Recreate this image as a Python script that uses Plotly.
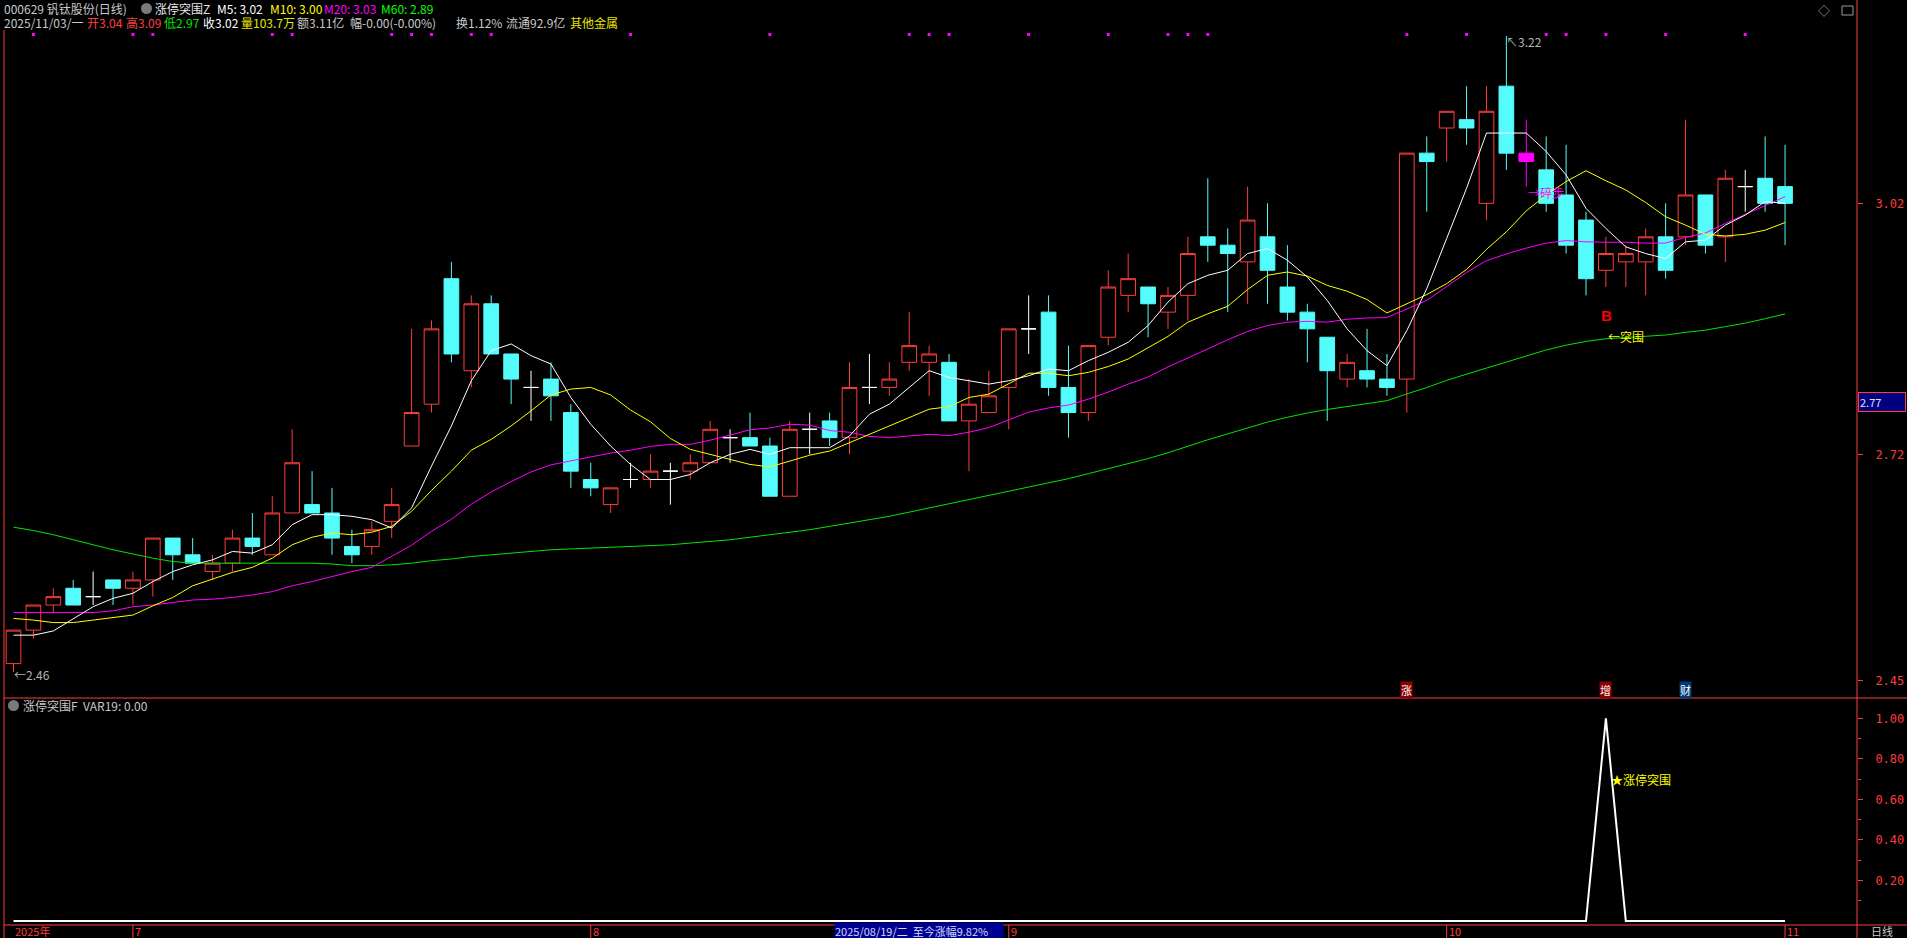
import plotly.graph_objects as go

# ---------------- data ----------------
N = 90
opens = [2.47, 2.51, 2.54, 2.56, 2.55, 2.57, 2.56, 2.57, 2.62, 2.60,
         2.58, 2.59, 2.62, 2.60, 2.65, 2.66, 2.65, 2.61, 2.61, 2.64,
         2.73, 2.78, 2.93, 2.82, 2.90, 2.84, 2.80, 2.81, 2.77, 2.69,
         2.66, 2.69, 2.69, 2.70, 2.70, 2.71, 2.74, 2.74, 2.73, 2.67,
         2.75, 2.76, 2.74, 2.80, 2.80, 2.83, 2.83, 2.83, 2.76, 2.77,
         2.80, 2.87, 2.89, 2.80, 2.77, 2.86, 2.91, 2.92, 2.89, 2.91,
         2.98, 2.97, 2.95, 2.98, 2.92, 2.89, 2.86, 2.81, 2.82, 2.81,
         2.81, 3.08, 3.11, 3.12, 3.02, 3.16, 3.08, 3.06, 3.03, 3.00,
         2.94, 2.95, 2.95, 2.98, 2.98, 3.03, 2.98, 3.04, 3.05, 3.04]
highs = [2.51, 2.54, 2.56, 2.57, 2.58, 2.57, 2.58, 2.62, 2.62, 2.62,
         2.60, 2.63, 2.65, 2.67, 2.75, 2.70, 2.68, 2.63, 2.64, 2.68,
         2.87, 2.88, 2.95, 2.91, 2.91, 2.84, 2.82, 2.83, 2.78, 2.71,
         2.68, 2.71, 2.72, 2.71, 2.72, 2.76, 2.75, 2.77, 2.74, 2.76,
         2.77, 2.77, 2.83, 2.84, 2.83, 2.89, 2.85, 2.84, 2.81, 2.82,
         2.87, 2.91, 2.91, 2.85, 2.85, 2.94, 2.96, 2.92, 2.92, 2.98,
         3.05, 2.99, 3.04, 3.02, 2.97, 2.90, 2.86, 2.84, 2.87, 2.84,
         3.08, 3.10, 3.13, 3.16, 3.16, 3.22, 3.12, 3.10, 3.09, 3.01,
         2.98, 2.97, 2.99, 3.02, 3.12, 3.03, 3.06, 3.06, 3.10, 3.09]
lows = [2.46, 2.50, 2.53, 2.54, 2.54, 2.54, 2.54, 2.55, 2.57, 2.59,
        2.57, 2.58, 2.60, 2.60, 2.65, 2.65, 2.60, 2.59, 2.60, 2.62,
        2.73, 2.77, 2.83, 2.80, 2.84, 2.78, 2.76, 2.76, 2.68, 2.67,
        2.65, 2.68, 2.68, 2.66, 2.69, 2.71, 2.71, 2.73, 2.67, 2.67,
        2.72, 2.73, 2.72, 2.78, 2.79, 2.82, 2.79, 2.76, 2.70, 2.77,
        2.75, 2.84, 2.79, 2.74, 2.76, 2.85, 2.89, 2.86, 2.87, 2.88,
        2.95, 2.89, 2.90, 2.90, 2.88, 2.83, 2.76, 2.80, 2.80, 2.79,
        2.77, 3.01, 3.07, 3.09, 3.00, 3.06, 3.04, 3.01, 2.96, 2.91,
        2.92, 2.92, 2.91, 2.93, 2.97, 2.96, 2.95, 3.01, 3.01, 2.97]
closes = [2.51, 2.54, 2.55, 2.54, 2.55, 2.56, 2.57, 2.62, 2.60, 2.59,
          2.59, 2.62, 2.61, 2.65, 2.71, 2.65, 2.62, 2.60, 2.63, 2.66,
          2.77, 2.87, 2.84, 2.90, 2.84, 2.81, 2.80, 2.79, 2.70, 2.68,
          2.68, 2.69, 2.70, 2.70, 2.71, 2.75, 2.74, 2.73, 2.67, 2.75,
          2.75, 2.74, 2.80, 2.80, 2.81, 2.85, 2.84, 2.76, 2.78, 2.79,
          2.87, 2.87, 2.80, 2.77, 2.85, 2.92, 2.93, 2.90, 2.91, 2.96,
          2.97, 2.96, 3.00, 2.94, 2.89, 2.87, 2.82, 2.83, 2.81, 2.80,
          3.08, 3.07, 3.13, 3.11, 3.13, 3.08, 3.07, 3.02, 2.97, 2.93,
          2.96, 2.96, 2.98, 2.94, 3.03, 2.97, 3.05, 3.04, 3.02, 3.02]
special_idx = [76]          # magenta-highlighted candle

# moving-average values before enough bars are visible
ma5_head = [2.504, 2.504, 2.509, 2.524]
ma10_head = [2.524, 2.522, 2.519, 2.519, 2.522, 2.525, 2.528, 2.539, 2.549]
ma20_head = [2.531, 2.531, 2.531, 2.531, 2.531, 2.533, 2.538, 2.540, 2.543, 2.546,
             2.547, 2.549, 2.552, 2.556, 2.563, 2.568, 2.574, 2.580, 2.585]
ma60_head = [2.633, 2.629, 2.624, 2.618, 2.612, 2.606, 2.601, 2.596, 2.592, 2.590,
             2.590, 2.590, 2.590, 2.590, 2.590, 2.590, 2.589, 2.587, 2.587, 2.588,
             2.590, 2.593, 2.595, 2.598, 2.600, 2.602, 2.604, 2.606, 2.607, 2.608,
             2.609, 2.610, 2.611, 2.612, 2.614, 2.616, 2.618, 2.621, 2.624, 2.627,
             2.630, 2.634, 2.638, 2.642, 2.646, 2.651, 2.656, 2.661, 2.666, 2.671,
             2.676, 2.681, 2.686, 2.691, 2.697, 2.703, 2.709, 2.715, 2.722]

signal_idx = [1, 6, 7, 13, 14, 19, 20, 21, 23, 24, 31, 38, 45, 46, 47, 51, 55,
              58, 59, 60, 70, 73, 77, 78, 80, 83, 87]

var19 = [0, 0, 0, 0, 0, 0, 0, 0, 0, 0, 0, 0, 0, 0, 0, 0, 0, 0, 0, 0,
         0, 0, 0, 0, 0, 0, 0, 0, 0, 0, 0, 0, 0, 0, 0, 0, 0, 0, 0, 0,
         0, 0, 0, 0, 0, 0, 0, 0, 0, 0, 0, 0, 0, 0, 0, 0, 0, 0, 0, 0,
         0, 0, 0, 0, 0, 0, 0, 0, 0, 0, 0, 0, 0, 0, 0, 0, 0, 0, 0, 0,
         1, 0, 0, 0, 0, 0, 0, 0, 0, 0]

month_tick_idx = [0, 6, 29, 50, 72, 89]
month_tick_text = ["2025年", "7", "8", "9", "10", "11"]
price_tick_vals = [3.02, 2.72, 2.45]
sub_tick_vals = [0.2, 0.4, 0.6, 0.8, 1.0]

# ---------------- helpers ----------------
W, H = 1907, 938
PL, PR, PT, PB = 4, 1857, 30, 925      # plot area in pixels
SPLIT = 698


def pxx(px):
    return (px - PL) / (PR - PL)


def pxy(py):
    return (PB - py) / (PB - PT)


def moving_avg(n, head):
    out = list(head)
    for i in range(len(head), N):
        w = closes[i - n + 1:i + 1]
        out.append(sum(w) / n)
    return out


ma5 = moving_avg(5, ma5_head)
ma10 = moving_avg(10, ma10_head)
ma20 = moving_avg(20, ma20_head)
ma60 = moving_avg(60, ma60_head)

RED = "#FF3C3C"
CYAN = "#54FCFC"
FONT = "Noto Sans CJK SC"
HS = 12   # header font size

fig = go.Figure()


def add_candles(idx, line_color, fill_color):
    if not idx:
        return
    fig.add_trace(go.Candlestick(
        x=idx,
        open=[opens[i] for i in idx], high=[highs[i] for i in idx],
        low=[lows[i] for i in idx], close=[closes[i] for i in idx],
        increasing=dict(line=dict(color=line_color, width=1), fillcolor=fill_color),
        decreasing=dict(line=dict(color=line_color, width=1), fillcolor=fill_color),
        whiskerwidth=0, hoverinfo="skip", xaxis="x", yaxis="y"))


up_idx = [i for i in range(N) if closes[i] > opens[i] and i not in special_idx]
dn_idx = [i for i in range(N) if closes[i] < opens[i] and i not in special_idx]
dj_idx = [i for i in range(N) if closes[i] == opens[i] and i not in special_idx]

add_candles(up_idx, RED, "#000000")
add_candles(dn_idx, CYAN, CYAN)
add_candles(dj_idx, "#FFFFFF", "#FFFFFF")
add_candles(special_idx, "#FF00FF", "#FF00FF")

xs = list(range(N))
for series, col in [(ma60, "#00E600"), (ma20, "#FF00FF"), (ma10, "#FFFF00"), (ma5, "#FFFFFF")]:
    fig.add_trace(go.Scatter(x=xs, y=series, mode="lines",
                             line=dict(color=col, width=1), hoverinfo="skip",
                             xaxis="x", yaxis="y"))

# signal dots along the top
y_main_top = 3.263 - 0.001195 * PT
y_main_bot = 3.263 - 0.001195 * SPLIT
dot_y = 3.263 - 0.001195 * 34.5
fig.add_trace(go.Scatter(x=signal_idx, y=[dot_y] * len(signal_idx), mode="markers",
                         marker=dict(symbol="square", size=3, color="#FF00FF"),
                         hoverinfo="skip", xaxis="x", yaxis="y"))

# sub-panel line
fig.add_trace(go.Scatter(x=xs, y=var19, mode="lines", line=dict(color="#FFFFFF", width=2),
                         hoverinfo="skip", xaxis="x", yaxis="y2"))

sub_top = (921 - SPLIT) / 202.7
sub_bot = (921 - PB) / 202.7

x0 = (PL - 13.5) / 19.905
x1 = (PR - 13.5) / 19.905

fig.update_layout(
    width=W, height=H, autosize=False,
    paper_bgcolor="#000000", plot_bgcolor="#000000",
    margin=dict(l=PL, r=W - PR, t=PT, b=H - PB),
    showlegend=False,
    boxgap=0.262, boxgroupgap=0,
    font=dict(family=FONT, size=12, color="#C8C8C8"),
    xaxis=dict(range=[x0, x1], domain=[0, 1], anchor="y2", showgrid=False,
               zeroline=False, showline=False, showticklabels=False, ticks="",
               rangeslider=dict(visible=False), fixedrange=True),
    yaxis=dict(domain=[pxy(SPLIT), 1], range=[y_main_bot, y_main_top], side="right",
               anchor="x", showgrid=False, zeroline=False, showline=False,
               tickvals=price_tick_vals, ticktext=["%.2f" % v for v in price_tick_vals],
               ticks="outside", ticklen=5, tickcolor=RED, tickwidth=1,
               ticklabelstandoff=10,
               tickfont=dict(color=RED, size=12, family="DejaVu Sans Mono")),
    yaxis2=dict(domain=[0, pxy(SPLIT)], range=[sub_bot, sub_top], side="right",
                anchor="x", showgrid=False, zeroline=False, showline=False,
                tickvals=sub_tick_vals, ticktext=["%.2f" % v for v in sub_tick_vals],
                ticks="outside", ticklen=5, tickcolor=RED, tickwidth=1,
                ticklabelstandoff=10,
                minor=dict(tickvals=[0.1, 0.3, 0.5, 0.7, 0.9], ticks="outside",
                           ticklen=3, tickcolor=RED),
                tickfont=dict(color=RED, size=12, family="DejaVu Sans Mono")),
)

shapes = []


def pline(xa, ya, xb, yb, color=RED, width=1):
    shapes.append(dict(type="line", xref="paper", yref="paper",
                       x0=pxx(xa), y0=pxy(ya), x1=pxx(xb), y1=pxy(yb),
                       line=dict(color=color, width=width)))


pline(PL, PT, PL, H)               # left border
pline(PR, 0, PR, H)                # right axis line
pline(PL, SPLIT, W, SPLIT)         # panel separator
pline(PL, PB, W, PB)               # bottom axis line
# month tick marks under the axis
for i in month_tick_idx[1:]:
    shapes.append(dict(type="line", xref="x", yref="paper", x0=i, x1=i,
                       y0=0, y1=pxy(H), line=dict(color=RED, width=1)))
# header icons
shapes.append(dict(type="circle", xref="paper", yref="paper",
                   x0=pxx(141), x1=pxx(152), y0=pxy(14), y1=pxy(3),
                   fillcolor="#7A7A7A", line=dict(width=0)))
shapes.append(dict(type="circle", xref="paper", yref="paper",
                   x0=pxx(8), x1=pxx(19), y0=pxy(711), y1=pxy(700),
                   fillcolor="#7A7A7A", line=dict(width=0)))
shapes.append(dict(type="rect", xref="paper", yref="paper",
                   x0=pxx(1842), x1=pxx(1853), y0=pxy(15), y1=pxy(6),
                   line=dict(color="#9A9A9A", width=1)))
fig.update_layout(shapes=shapes)

ann = []


def ptext(px, py, text, color="#C8C8C8", size=12, anchor="left", **kw):
    d = dict(xref="paper", yref="paper", x=pxx(px), y=pxy(py), text=text,
             showarrow=False, xanchor=anchor, yanchor="middle", borderpad=0,
             font=dict(color=color, size=size, family=FONT))
    d.update(kw)
    ann.append(d)


# header line 1
ptext(3, 9, "000629 钒钛股份(日线)", "#C8C8C8", HS)
ptext(154, 9, "涨停突围Z", "#E6E6E6", HS)
ptext(216, 9, "M5: 3.02", "#FFFFFF", HS)
ptext(269, 9, "M10: 3.00", "#FFFF00", HS)
ptext(323, 9, "M20: 3.03", "#FF00FF", HS)
ptext(380, 9, "M60: 2.89", "#00FF00", HS)
# header line 2
ptext(3, 22, "2025/11/03/一", "#C8C8C8", HS)
ptext(86, 22, "开3.04", "#FF4040", HS)
ptext(125, 22, "高3.09", "#FF4040", HS)
ptext(163, 22, "低2.97", "#00E600", HS)
ptext(202, 22, "收3.02", "#FFFFFF", HS)
ptext(240, 22, "量103.7万", "#E6E600", HS)
ptext(296, 22, "额3.11亿", "#C8C8C8", HS)
ptext(349, 22, "幅-0.00(-0.00%)", "#C8C8C8", HS)
ptext(455, 22, "换1.12%", "#C8C8C8", HS)
ptext(505, 22, "流通92.9亿", "#C8C8C8", HS)
ptext(569, 22, "其他金属", "#E6E600", HS)
ptext(1824, 10, "◇", "#9A9A9A", size=12, anchor="center")

# sub panel title
ptext(22, 705, "涨停突围F  VAR19: 0.00", "#C8C8C8", HS)

# x axis labels
for i, t in zip(month_tick_idx, month_tick_text):
    ann.append(dict(xref="x", yref="paper", x=i, y=pxy(931), text=t, showarrow=False,
                    xanchor="left", yanchor="middle", xshift=1 if i else 0, borderpad=0,
                    font=dict(color=RED, size=11, family=FONT)))
ptext(834, 931, "2025/08/19/二  至今涨幅9.82%", "#D0D8FF", size=11,
      bgcolor="#000090", width=168, align="left")
ptext(1870, 931, "日线", "#C8C8C8", size=11)

# cursor price box on the axis
ptext(1858, 402, "2.77", "#E0E0FF", size=11, bgcolor="#000080",
      bordercolor=RED, borderwidth=1, borderpad=1, width=44, align="left")

# extreme labels
ann.append(dict(xref="x", yref="paper", x=0, y=pxy(674), text="←2.46", showarrow=False,
                xanchor="left", yanchor="middle", xshift=-2,
                font=dict(color="#B4B4B4", size=12, family=FONT)))
ann.append(dict(xref="x", yref="paper", x=75, y=pxy(41), text="↖3.22", showarrow=False,
                xanchor="left", yanchor="middle", xshift=-2,
                font=dict(color="#B4B4B4", size=12, family=FONT)))

# indicator text marks
ann.append(dict(xref="x", yref="paper", x=76, y=pxy(192), text="→碎步", showarrow=False,
                xanchor="left", yanchor="middle", xshift=0,
                font=dict(color="#FF00FF", size=12, family=FONT)))
ann.append(dict(xref="x", yref="paper", x=80, y=pxy(315), text="<b>B</b>", showarrow=False,
                xanchor="center", yanchor="middle", xshift=1,
                font=dict(color="#FF0000", size=15, family="Liberation Sans")))
ann.append(dict(xref="x", yref="paper", x=80, y=pxy(336), text="←突围", showarrow=False,
                xanchor="left", yanchor="middle", xshift=0,
                font=dict(color="#FFFF00", size=12, family=FONT)))
for i, t, bg in [(70, "涨", "#8B0000"), (80, "增", "#8B0000"), (84, "财", "#003A78")]:
    ann.append(dict(xref="x", yref="paper", x=i, y=pxy(690), text=t, showarrow=False,
                    xanchor="center", yanchor="middle", bgcolor=bg, borderpad=0,
                    font=dict(color="#FFFFFF", size=11, family=FONT)))
ann.append(dict(xref="x", yref="y2", x=80, y=0.70, text="★涨停突围", showarrow=False,
                xanchor="left", yanchor="middle", xshift=3,
                font=dict(color="#FFFF00", size=12, family=FONT)))

fig.update_layout(annotations=ann)

fig.write_html("out.html", config={"displayModeBar": False},
               post_script="document.body.style.margin='0px';document.body.style.overflow='hidden';")
